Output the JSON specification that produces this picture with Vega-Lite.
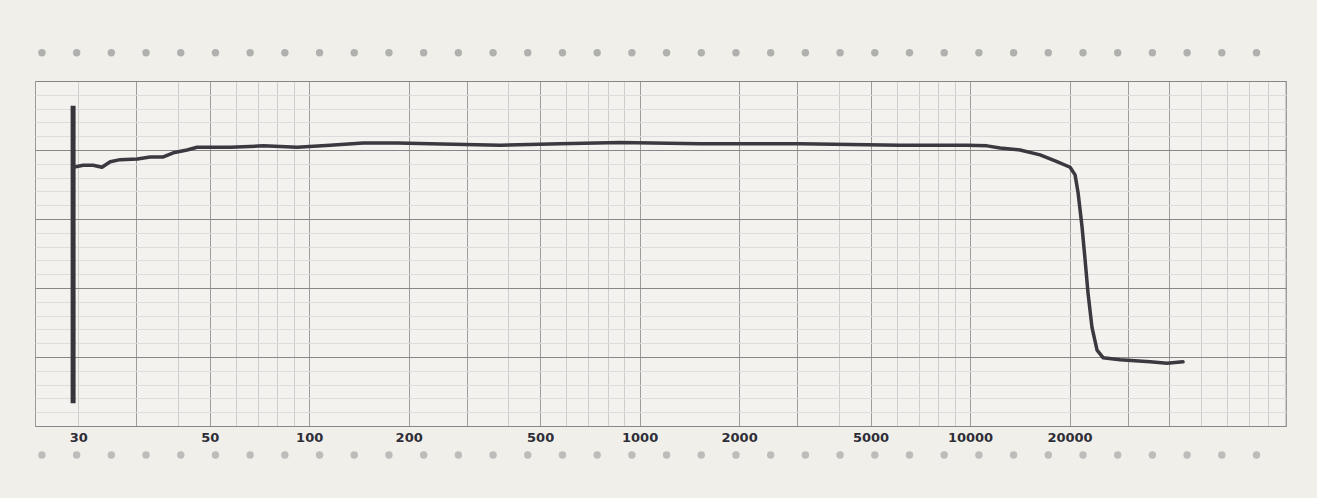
{
  "$schema": "https://vega.github.io/schema/vega-lite/v6.json",
  "width": 1251,
  "height": 345,
  "autosize": "none",
  "padding": {"left": 35, "top": 81, "right": 31, "bottom": 72},
  "background": "#f1efe9",
  "config": {"view": {"stroke": "#9a9a9a", "strokeWidth": 1, "fill": "#f4f2ee"}},
  "datasets": {
    "curve": [
      {"f": 19.3, "db": -2.5}, {"f": 20.7, "db": -2.2}, {"f": 22.2, "db": -2.2}, {"f": 23.6, "db": -2.5},
      {"f": 25.0, "db": -1.7}, {"f": 26.8, "db": -1.4}, {"f": 30.2, "db": -1.3}, {"f": 33.0, "db": -1.0},
      {"f": 36.2, "db": -1.0}, {"f": 38.8, "db": -0.4}, {"f": 42.7, "db": 0.0}, {"f": 45.8, "db": 0.4},
      {"f": 50.2, "db": 0.4}, {"f": 57.7, "db": 0.4}, {"f": 72.6, "db": 0.6}, {"f": 92.0, "db": 0.4},
      {"f": 115.7, "db": 0.7}, {"f": 145.7, "db": 1.0}, {"f": 184.6, "db": 1.0}, {"f": 232.3, "db": 0.9},
      {"f": 378.5, "db": 0.7}, {"f": 574.8, "db": 0.9}, {"f": 873, "db": 1.1}, {"f": 1524, "db": 0.9},
      {"f": 3059, "db": 0.9}, {"f": 6140, "db": 0.7}, {"f": 7727, "db": 0.7}, {"f": 9792, "db": 0.7},
      {"f": 11260, "db": 0.6}, {"f": 12330, "db": 0.3}, {"f": 14170, "db": 0.0}, {"f": 16290, "db": -0.7},
      {"f": 18330, "db": -1.7}, {"f": 20080, "db": -2.5}, {"f": 20790, "db": -3.6}, {"f": 21230, "db": -6.2},
      {"f": 21830, "db": -11.2}, {"f": 22290, "db": -15.9}, {"f": 22750, "db": -20.7}, {"f": 23390, "db": -25.7},
      {"f": 24230, "db": -29.0}, {"f": 25260, "db": -30.1}, {"f": 28440, "db": -30.4}, {"f": 35050, "db": -30.7},
      {"f": 39450, "db": -30.9}, {"f": 44110, "db": -30.7}
    ],
    "spike": [{"f": 19.3, "db": 6.4, "db2": -36.7}],
    "holes": [
      {"hole": 0}, {"hole": 1}, {"hole": 2}, {"hole": 3}, {"hole": 4}, {"hole": 5}, {"hole": 6}, {"hole": 7},
      {"hole": 8}, {"hole": 9}, {"hole": 10}, {"hole": 11}, {"hole": 12}, {"hole": 13}, {"hole": 14}, {"hole": 15},
      {"hole": 16}, {"hole": 17}, {"hole": 18}, {"hole": 19}, {"hole": 20}, {"hole": 21}, {"hole": 22}, {"hole": 23},
      {"hole": 24}, {"hole": 25}, {"hole": 26}, {"hole": 27}, {"hole": 28}, {"hole": 29}, {"hole": 30}, {"hole": 31},
      {"hole": 32}, {"hole": 33}, {"hole": 34}, {"hole": 35}
    ]
  },
  "layer": [
    {
      "encoding": {
        "x": {
          "field": "f",
          "type": "quantitative",
          "scale": {"type": "log", "domain": [14.8, 90400], "nice": false},
          "axis": {
            "title": null,
            "tickCount": 60,
            "values": [20, 30, 40, 50, 60, 70, 80, 90, 100, 200, 300, 400, 500, 600, 700, 800, 900, 1000, 2000, 3000, 4000, 5000, 6000, 7000, 8000, 9000, 10000, 20000, 30000, 40000, 50000, 60000, 70000, 80000, 90000],
            "labelExpr": "indexof([20, 50, 100, 200, 500, 1000, 2000, 5000, 10000, 20000], datum.value) >= 0 ? (datum.value == 20 ? '30' : datum.value + '') : ''",
            "labelOverlap": false,
            "labelFlush": false,
            "labelFont": "DejaVu Sans",
            "labelFontWeight": "bold",
            "labelFontSize": 13,
            "labelColor": "#2e2e38",
            "labelPadding": 5,
            "ticks": false,
            "domain": false,
            "grid": true,
            "gridColor": {"condition": {"test": "indexof([30, 50, 100, 200, 300, 500, 1000, 2000, 3000, 5000, 10000, 20000, 30000, 40000], datum.value) >= 0", "value": "#9c9c9c"}, "value": "#cdcdcd"},
            "gridWidth": 1
          }
        },
        "y": {
          "field": "db",
          "type": "quantitative",
          "scale": {"domain": [-40, 10], "nice": false, "zero": false},
          "axis": {
            "title": null,
            "tickCount": 60,
            "values": [-40, -38, -36, -34, -32, -30, -28, -26, -24, -22, -20, -18, -16, -14, -12, -10, -8, -6, -4, -2, 0, 2, 4, 6, 8, 10],
            "labels": false,
            "labelOverlap": false,
            "ticks": false,
            "domain": false,
            "grid": true,
            "gridColor": {"condition": {"test": "datum.value % 10 === 0", "value": "#878787"}, "value": "#dcdcdc"},
            "gridWidth": 1
          }
        }
      },
      "layer": [
        {
          "data": {"name": "spike"},
          "mark": {"type": "rule", "color": "#38363c", "strokeWidth": 5},
          "encoding": {"y2": {"field": "db2"}}
        },
        {
          "data": {"name": "curve"},
          "mark": {"type": "line", "color": "#3b3840", "strokeWidth": 3.5, "strokeJoin": "round", "strokeCap": "round"}
        }
      ]
    },
    {
      "data": {"name": "holes"},
      "encoding": {
        "x": {"field": "hole", "type": "quantitative", "scale": {"domain": [-0.2, 35.85], "nice": false, "zero": false}, "axis": null}
      },
      "layer": [
        {
          "mark": {"type": "point", "filled": true, "shape": "circle", "size": 55, "color": "#a9a9a9", "opacity": 0.9},
          "encoding": {"y": {"datum": 14.1, "type": "quantitative"}}
        },
        {
          "mark": {"type": "point", "filled": true, "shape": "circle", "size": 55, "color": "#b6b6b6", "opacity": 0.9},
          "encoding": {"y": {"datum": -44.2, "type": "quantitative"}}
        }
      ]
    }
  ],
  "resolve": {"scale": {"x": "independent"}, "axis": {"x": "independent"}}
}
